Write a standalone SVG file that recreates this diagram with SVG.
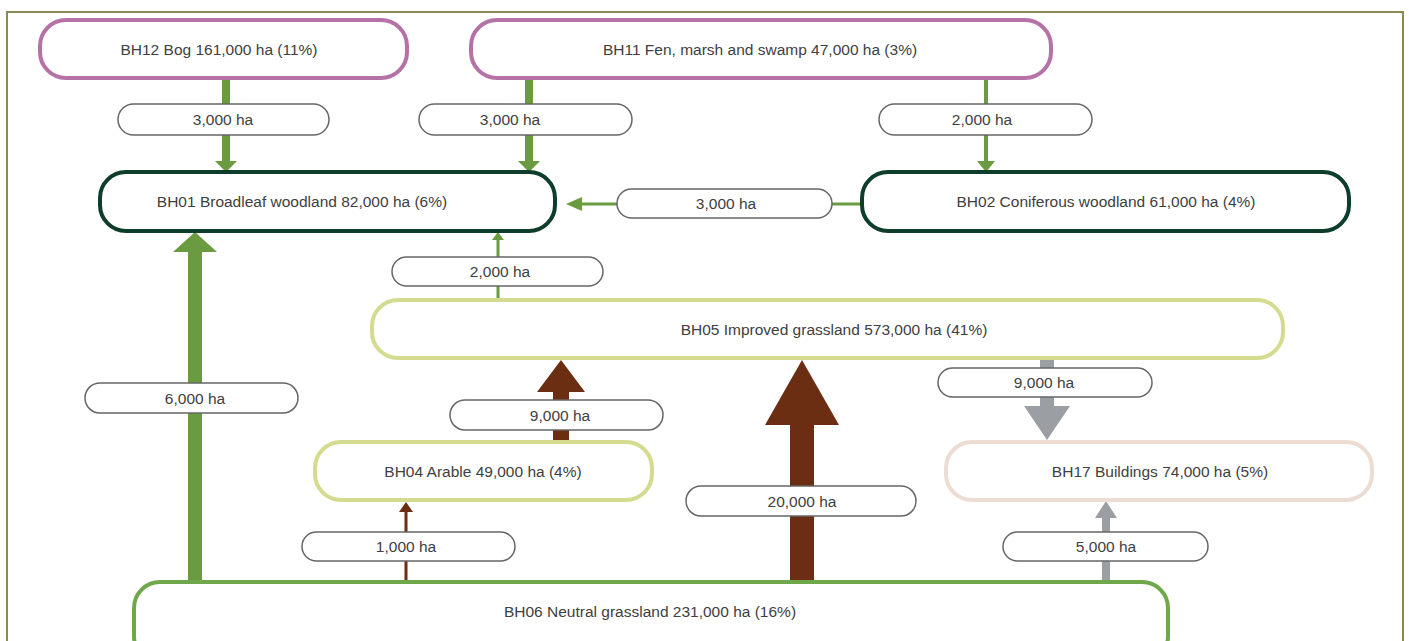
<svg xmlns="http://www.w3.org/2000/svg" width="1409" height="641" viewBox="0 0 1409 641">
<style>
.node{fill:#fff;stroke-width:4}
.bog{stroke:#b472a6}
.wood{stroke:#0f3d2b}
.grass{stroke:#d5db8e}
.bld{stroke:#ecdcd2}
.neutral{stroke:#6fa84a}
.lbl{fill:#fff;stroke:#666;stroke-width:1.5}
text{font-family:"Liberation Sans",Arial,sans-serif;font-size:15.5px;fill:#404040;text-anchor:middle;dominant-baseline:central}
.g{fill:#6a9b40}
.b{fill:#6b2e12}
.y{fill:#9b9ea2}
</style>
<rect x="0" y="0" width="1409" height="641" fill="#fff"/>
<path d="M7,660 V12 H1403 V660" fill="none" stroke="#8b8a55" stroke-width="2"/>

<g id="connectors">
<polygon class="g" points="222,79 230,79 230,161 237,161 226,172 215,161 222,161"/>
<polygon class="g" points="525,79 533,79 533,161 540,161 529,172 518,161 525,161"/>
<polygon class="g" points="984,79 988,79 988,161 995,161 986,172 977,161 984,161"/>
<polygon class="g" points="862,202.5 582,202.5 582,197 566,204 582,211 582,205.5 862,205.5"/>
<polygon class="g" points="188,582 202,582 202,252 217,252 195,232 173,252 188,252"/>
<polygon class="g" points="496.5,300 499.5,300 499.5,240 504,240 498,232 492,240 496.5,240"/>
<polygon class="b" points="553,442 569,442 569,392 585,392 561,360 537,392 553,392"/>
<polygon class="b" points="790,582 814,582 814,425 839,425 802,360 765,425 790,425"/>
<polygon class="b" points="404.5,582 407.5,582 407.5,512 413,512 406,502 399,512 404.5,512"/>
<polygon class="y" points="1040,358 1054,358 1054,406 1070,406 1047,440 1024,406 1040,406"/>
<polygon class="y" points="1102,582 1110,582 1110,518 1117,518 1106,501 1095,518 1102,518"/>
</g>

<g id="labels">
<rect class="lbl" x="118" y="104" width="211" height="31" rx="15.5"/><text x="223" y="119.5">3,000 ha</text>
<rect class="lbl" x="419" y="104" width="213" height="31" rx="15.5"/><text x="510" y="119.5">3,000 ha</text>
<rect class="lbl" x="879" y="104" width="213" height="31" rx="15.5"/><text x="982" y="119.5">2,000 ha</text>
<rect class="lbl" x="617" y="189" width="215" height="29" rx="14.5"/><text x="726" y="203.5">3,000 ha</text>
<rect class="lbl" x="392" y="257" width="211" height="29" rx="14.5"/><text x="500" y="271.5">2,000 ha</text>
<rect class="lbl" x="85" y="383" width="213" height="30" rx="15"/><text x="195" y="398">6,000 ha</text>
<rect class="lbl" x="450" y="400" width="213" height="30" rx="15"/><text x="560" y="415">9,000 ha</text>
<rect class="lbl" x="938" y="368" width="214" height="29" rx="14.5"/><text x="1044" y="382.5">9,000 ha</text>
<rect class="lbl" x="686" y="486" width="230" height="30" rx="15"/><text x="802" y="501">20,000 ha</text>
<rect class="lbl" x="302" y="532" width="213" height="29" rx="14.5"/><text x="406" y="546.5">1,000 ha</text>
<rect class="lbl" x="1003" y="532" width="205" height="29" rx="14.5"/><text x="1106" y="546.5">5,000 ha</text>
</g>

<g id="BH12"><rect class="node bog" x="40" y="20" width="367" height="58" rx="26"/><text x="219" y="49">BH12 Bog 161,000 ha (11%)</text></g>
<g id="BH11"><rect class="node bog" x="471" y="20" width="580" height="58" rx="26"/><text x="760" y="49">BH11 Fen, marsh and swamp 47,000 ha (3%)</text></g>
<g id="BH01"><rect class="node wood" x="100" y="172" width="455" height="59" rx="26"/><text x="302" y="201.5">BH01 Broadleaf woodland 82,000 ha (6%)</text></g>
<g id="BH02"><rect class="node wood" x="862" y="172" width="487" height="59" rx="26"/><text x="1106" y="201.5">BH02 Coniferous woodland 61,000 ha (4%)</text></g>
<g id="BH05"><rect class="node grass" x="372" y="300" width="911" height="58" rx="26"/><text x="834" y="329">BH05 Improved grassland 573,000 ha (41%)</text></g>
<g id="BH04"><rect class="node grass" x="315" y="442" width="337" height="58" rx="26"/><text x="483" y="471">BH04 Arable 49,000 ha (4%)</text></g>
<g id="BH17"><rect class="node bld" x="946" y="442" width="426" height="58" rx="26"/><text x="1160" y="471">BH17 Buildings 74,000 ha (5%)</text></g>
<g id="BH06"><rect class="node neutral" x="134" y="582" width="1034" height="80" rx="26"/><text x="650" y="611">BH06 Neutral grassland 231,000 ha (16%)</text></g>
</svg>
